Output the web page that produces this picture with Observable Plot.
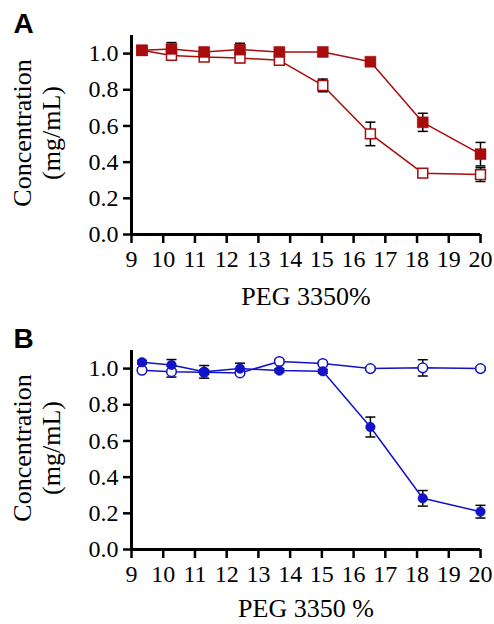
<!DOCTYPE html>
<html>
<head>
<meta charset="utf-8">
<script src="https://cdn.jsdelivr.net/npm/d3@7"></script>
<script src="https://cdn.jsdelivr.net/npm/@observablehq/plot@0.6"></script>
<style>
  html, body { margin: 0; padding: 0; background: #fff; overflow: hidden; }
  svg { display: block; overflow: visible; }
</style>
</head>
<body>
<div id="chart"></div>
<script>
// PEG 3350 concentrations (%)
const peg = [9.33, 10.26, 11.29, 12.42, 13.66, 15.03, 16.53, 18.18, 20.0];
const xTicks = [9, 10, 11, 12, 13, 14, 15, 16, 17, 18, 19, 20];
const yTicks = [0, 0.2, 0.4, 0.6, 0.8, 1.0];

// Panel A (red squares)
const aFilled = [1.018, 1.026, 1.009, 1.022, 1.009, 1.009, 0.955, 0.620, 0.444];
const aFilledErr = [0.010, 0.035, 0.010, 0.035, 0.010, 0.010, 0.010, 0.050, 0.065];
const aOpen = [1.018, 0.990, 0.981, 0.976, 0.963, 0.824, 0.556, 0.339, 0.331];
const aOpenErr = [0.010, 0.022, 0.010, 0.025, 0.010, 0.035, 0.065, 0.010, 0.038];

// Panel B (blue circles)
const bFilled = [1.035, 1.020, 0.982, 1.000, 0.989, 0.985, 0.677, 0.283, 0.209];
const bFilledErr = [0.010, 0.030, 0.035, 0.030, 0.010, 0.010, 0.055, 0.043, 0.035];
const bOpen = [0.991, 0.983, 0.980, 0.976, 1.039, 1.028, 1.000, 1.004, 1.000];
const bOpenErr = [0.010, 0.030, 0.010, 0.010, 0.010, 0.010, 0.010, 0.045, 0.010];

const panels = [
  {letter: "A", xLabel: "PEG 3350%", labelDy: 62, color: "#a80c0c", symbol: "square", r: 6.2,
   open: aOpen, openErr: aOpenErr, filled: aFilled, filledErr: aFilledErr},
  {letter: "B", xLabel: "PEG 3350 %", labelDy: 59, color: "#1212c8", symbol: "circle", r: 4.8,
   open: bOpen, openErr: bOpenErr, filled: bFilled, filledErr: bFilledErr}
];

const hline = {draw(ctx) { ctx.moveTo(-5, 0); ctx.lineTo(5, 0); }};
const serif = "Liberation Serif";

function rows(vals, errs) {
  return peg.map((x, i) => ({x, y: vals[i], lo: vals[i] - errs[i], hi: vals[i] + errs[i]}));
}

function panel(p) {
  const open = rows(p.open, p.openErr);
  const filled = rows(p.filled, p.filledErr);
  const both = open.concat(filled);
  return Plot.plot({
    width: 494,
    height: 315,
    marginLeft: 131,
    marginRight: 14,
    marginTop: 35,
    marginBottom: 81,
    style: {fontFamily: serif, fontSize: "24px", color: "black", background: "white", overflow: "visible"},
    x: {domain: [9, 20]},
    y: {domain: [0, 1.1]},
    marks: [
      Plot.axisX({ticks: xTicks, tickSize: 9, tickPadding: 6, strokeWidth: 2.5, label: null,
        fontSize: 24, fontFamily: serif, fill: "black"}),
      Plot.axisY({ticks: yTicks, tickSize: 8, tickPadding: 5, strokeWidth: 2.5, tickFormat: ".1f", label: null,
        fontSize: 24, fontFamily: serif, fill: "black"}),
      Plot.ruleX([9], {stroke: "black", strokeWidth: 3}),
      Plot.ruleY([0], {stroke: "black", strokeWidth: 3}),
      Plot.line(open, {x: "x", y: "y", stroke: p.color, strokeWidth: 1.5}),
      Plot.line(filled, {x: "x", y: "y", stroke: p.color, strokeWidth: 1.5}),
      Plot.ruleX(both, {x: "x", y1: "lo", y2: "hi", stroke: "black", strokeWidth: 1.5}),
      Plot.dot(both, {x: "x", y: "lo", symbol: hline, stroke: "black", strokeWidth: 1.5}),
      Plot.dot(both, {x: "x", y: "hi", symbol: hline, stroke: "black", strokeWidth: 1.5}),
      Plot.dot(open, {x: "x", y: "y", symbol: p.symbol, r: p.symbol === "square" ? p.r * 0.9 : p.r, fill: "white", stroke: p.color, strokeWidth: 1.5}),
      Plot.dot(filled, {x: "x", y: "y", symbol: p.symbol, r: p.r, fill: p.color, stroke: p.color, strokeWidth: 0.5}),
      Plot.text([p.letter], {frameAnchor: "top-left", text: d => d, dx: -118, dy: -22, lineAnchor: "top", textAnchor: "start",
        fontFamily: "Liberation Sans", fontWeight: "bold", fontSize: 28, fill: "black"}),
      Plot.text(["Concentration\n(mg/mL)"], {frameAnchor: "left", text: d => d, rotate: -90, dx: -95, dy: -2,
        textAnchor: "middle", lineAnchor: "middle", fontFamily: serif, fontSize: 26, lineHeight: 1.12, fill: "black"}),
      Plot.text([p.xLabel], {frameAnchor: "bottom", text: d => d, dy: p.labelDy, textAnchor: "middle", lineAnchor: "middle",
        fontFamily: serif, fontSize: 26, fill: "black"})
    ]
  });
}

const root = document.getElementById("chart");
for (const p of panels) root.appendChild(panel(p));
</script>
</body>
</html>
